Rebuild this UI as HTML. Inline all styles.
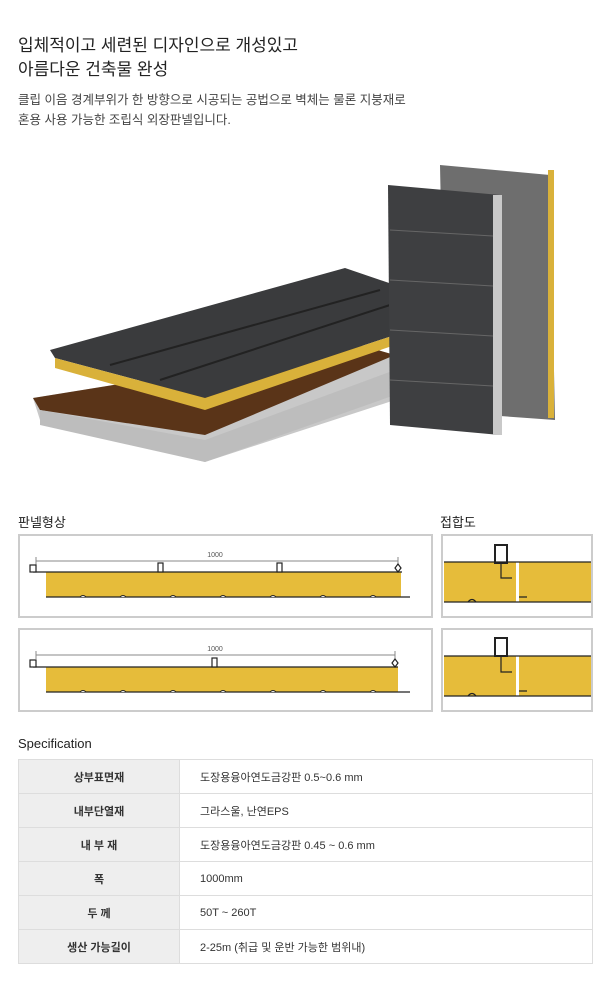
<!DOCTYPE html>
<html><head><meta charset="utf-8"><style>
body{margin:0;width:610px;height:990px;background:#fff;font-family:"Liberation Sans","Noto Sans CJK KR",sans-serif;color:#222;position:relative;overflow:hidden}
.t1{position:absolute;left:18px;top:34px;font-size:17px;line-height:24px;color:#222}
.t2{position:absolute;left:18px;top:90px;font-size:12.5px;line-height:20px;color:#444}
.h{position:absolute;font-size:13px;color:#222}
.box{position:absolute;border:2px solid #ccc;box-sizing:border-box;background:#fff}
table{position:absolute;left:18px;top:759px;width:575px;border-collapse:collapse;font-size:11px}
td{border:1px solid #ddd;height:33px;padding:0}
td.l{background:#eee;width:160px;text-align:center;font-weight:bold;color:#333}
td.r{padding-left:20px;color:#333}
</style></head><body>
<div class="t1">입체적이고 세련된 디자인으로 개성있고<br>아름다운 건축물 완성</div>
<div class="t2">클립 이음 경계부위가 한 방향으로 시공되는 공법으로 벽체는 물론 지붕재로<br>혼용 사용 가능한 조립식 외장판넬입니다.</div>
<svg style="position:absolute;left:0;top:0" width="610" height="500">
<polygon points="33,398 360,345 395,360 395,400 205,462 40,420" fill="#c8c8c8"/>
<polygon points="33,398 360,345 395,355 205,435 40,410" fill="#5a3418"/>
<polygon points="40,410 205,440 395,370 395,395 205,462 40,425" fill="#bdbdbd"/>
<polygon points="50,350 345,268 395,285 395,335 205,398 55,358" fill="#3a3b3d"/>
<polygon points="55,358 205,398 395,335 395,345 205,410 55,368" fill="#d9b13a"/>
<line x1="110" y1="365" x2="380" y2="290" stroke="#222" stroke-width="2"/>
<line x1="160" y1="380" x2="390" y2="305" stroke="#222" stroke-width="2"/>
<polygon points="440,165 550,175 555,420 445,412" fill="#6e6e6e"/>
<rect x="548" y="170" width="6" height="248" fill="#d9b13a"/>
<polygon points="388,185 500,195 500,435 390,425" fill="#3e3f41"/>
<rect x="493" y="195" width="9" height="240" fill="#c9c9c9"/>
<g stroke="#666" stroke-width="1"><line x1="390" y1="230" x2="493" y2="236"/><line x1="390" y1="280" x2="493" y2="286"/><line x1="390" y1="330" x2="493" y2="336"/><line x1="390" y1="380" x2="493" y2="386"/></g>
</svg>
<div class="h" style="left:18px;top:512px">판넬형상</div>
<div class="h" style="left:440px;top:512px">접합도</div>
<div class="box" style="left:18px;top:534px;width:415px;height:84px"></div>
<div class="box" style="left:441px;top:534px;width:152px;height:84px"></div>
<div class="box" style="left:18px;top:628px;width:415px;height:84px"></div>
<div class="box" style="left:441px;top:628px;width:152px;height:84px"></div>
<svg style="position:absolute;left:0;top:0" width="610" height="720">
<g font-size="7" fill="#555" text-anchor="middle"><text x="215" y="557">1000</text><text x="215" y="651">1000</text></g>
<g stroke="#888" stroke-width="1"><line x1="36" y1="561" x2="398" y2="561"/><line x1="36" y1="557" x2="36" y2="565"/><line x1="398" y1="557" x2="398" y2="565"/><line x1="36" y1="655" x2="395" y2="655"/><line x1="36" y1="651" x2="36" y2="659"/><line x1="395" y1="651" x2="395" y2="659"/></g>
<rect x="46" y="572" width="355" height="25" fill="#e6bc3a"/>
<path d="M33,572 H402 M46,597 H410" stroke="#222" stroke-width="1.2" fill="none"/>
<g fill="#fff" stroke="#222" stroke-width="1.2"><rect x="158" y="563" width="5" height="9"/><rect x="277" y="563" width="5" height="9"/><rect x="30" y="565" width="6" height="7"/><path d="M398,564 l3,4 -3,4 -3,-4z"/></g>
<rect x="46" y="667" width="352" height="25" fill="#e6bc3a"/>
<path d="M33,667 H398 M46,692 H410" stroke="#222" stroke-width="1.2" fill="none"/>
<g fill="#fff" stroke="#222" stroke-width="1.2"><rect x="212" y="658" width="5" height="9"/><rect x="30" y="660" width="6" height="7"/><path d="M395,659 l3,4 -3,4 -3,-4z"/></g>
<g fill="#fff" stroke="#222" stroke-width="1"><path d="M80,597 q3,-3 6,0 M120,597 q3,-3 6,0 M170,597 q3,-3 6,0 M220,597 q3,-3 6,0 M270,597 q3,-3 6,0 M320,597 q3,-3 6,0 M370,597 q3,-3 6,0"/><path d="M80,692 q3,-3 6,0 M120,692 q3,-3 6,0 M170,692 q3,-3 6,0 M220,692 q3,-3 6,0 M270,692 q3,-3 6,0 M320,692 q3,-3 6,0 M370,692 q3,-3 6,0"/></g>
<rect x="444" y="562" width="147" height="40" fill="#e6bc3a"/>
<rect x="516" y="562" width="3" height="40" fill="#fff"/>
<path d="M444,562 H591 M444,602 H591 M501,562 V578 H512" stroke="#222" stroke-width="1.2" fill="none"/>
<rect x="495" y="545" width="12" height="18" fill="none" stroke="#222" stroke-width="2"/>
<path d="M519,597 h8 M468,602 q4,-5 8,0" stroke="#222" stroke-width="1.2" fill="none"/>
<rect x="444" y="656" width="147" height="40" fill="#e6bc3a"/>
<rect x="516" y="656" width="3" height="40" fill="#fff"/>
<path d="M444,656 H591 M444,696 H591 M501,656 V672 H512" stroke="#222" stroke-width="1.2" fill="none"/>
<rect x="495" y="638" width="12" height="18" fill="none" stroke="#222" stroke-width="2"/>
<path d="M519,691 h8 M468,696 q4,-5 8,0" stroke="#222" stroke-width="1.2" fill="none"/>
</svg>
<div class="h" style="left:18px;top:736px">Specification</div>
<table>
<tr><td class="l">상부표면재</td><td class="r">도장용융아연도금강판 0.5~0.6 mm</td></tr>
<tr><td class="l">내부단열재</td><td class="r">그라스울, 난연EPS</td></tr>
<tr><td class="l">내 부 재</td><td class="r">도장용융아연도금강판 0.45 ~ 0.6 mm</td></tr>
<tr><td class="l">폭</td><td class="r">1000mm</td></tr>
<tr><td class="l">두 께</td><td class="r">50T ~ 260T</td></tr>
<tr><td class="l">생산 가능길이</td><td class="r">2-25m (취급 및 운반 가능한 범위내)</td></tr>
</table>
</body></html>
